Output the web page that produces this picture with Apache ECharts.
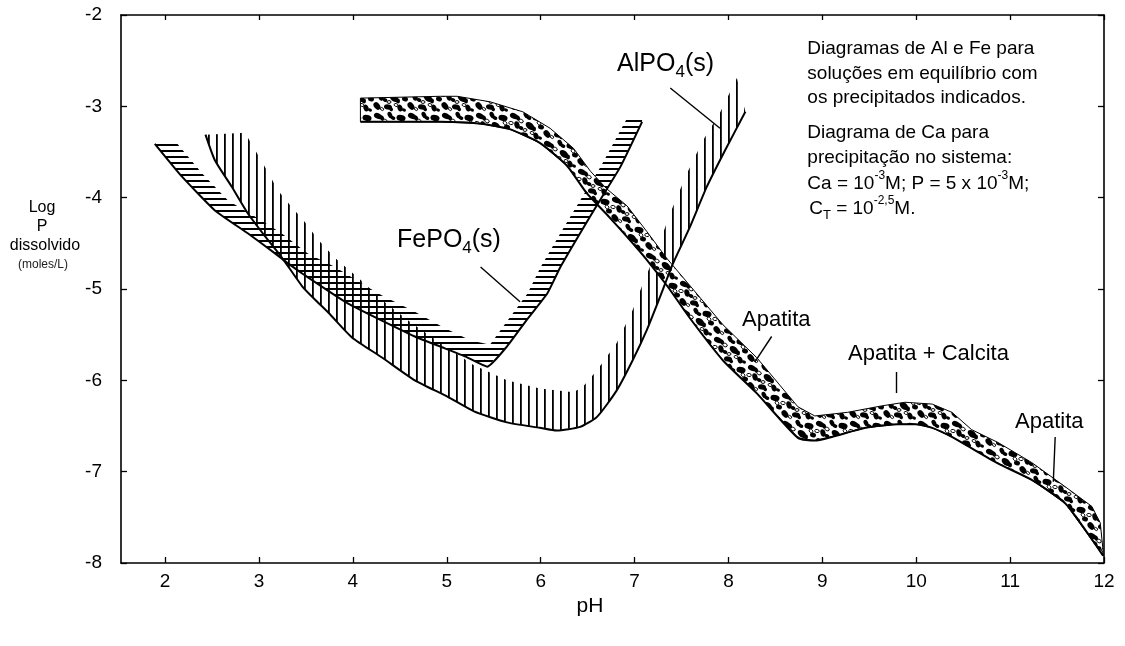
<!DOCTYPE html>
<html><head><meta charset="utf-8">
<script src="https://cdn.jsdelivr.net/npm/echarts@6/dist/echarts.min.js"></script>
<style>html,body{margin:0;padding:0;background:#fff}#c{width:1125px;height:646px}</style>
</head><body><div id="c"></div>
<script>
// ---------- DATA (pH, log P dissolvido) ----------
const xTicks = [2, 3, 4, 5, 6, 7, 8, 9, 10, 11, 12];
const yTicks = [-8, -7, -6, -5, -4, -3, -2];

// FePO4(s): solid boundary line and hatch edge
const fePO4Lower = [[1.89,-3.41],[2.18,-3.77],[2.53,-4.14],[2.88,-4.39],[3.17,-4.61],[3.31,-4.72],[3.46,-4.83],[3.95,-5.16],[4.66,-5.52],[4.93,-5.63],[5.20,-5.74],[5.43,-5.85],[5.64,-5.63],[5.85,-5.34],[6.07,-5.05],[6.21,-4.76],[6.42,-4.39],[6.63,-4.03],[6.85,-3.66],[7.08,-3.17]];
const fePO4Upper = [[1.89,-3.41],[2.13,-3.41],[2.39,-3.73],[2.67,-4.03],[2.96,-4.21],[3.24,-4.39],[3.52,-4.61],[3.81,-4.76],[4.16,-4.98],[4.31,-5.07],[4.66,-5.25],[4.98,-5.43],[5.25,-5.56],[5.46,-5.61],[5.63,-5.37],[5.86,-5.05],[6.00,-4.76],[6.21,-4.39],[6.42,-4.03],[6.64,-3.66],[6.92,-3.13],[7.08,-3.13]];

// AlPO4(s)
const alPO4Lower = [[2.43,-3.31],[2.53,-3.59],[2.71,-3.88],[2.88,-4.17],[3.07,-4.43],[3.24,-4.65],[3.46,-4.97],[3.60,-5.12],[3.74,-5.26],[3.99,-5.53],[4.31,-5.75],[4.66,-6.00],[5.01,-6.18],[5.29,-6.34],[5.64,-6.46],[5.99,-6.52],[6.17,-6.55],[6.42,-6.51],[6.60,-6.40],[6.81,-6.11],[6.98,-5.78],[7.13,-5.45],[7.27,-5.09],[7.41,-4.72],[7.59,-4.32],[7.77,-3.88],[7.97,-3.47],[8.18,-3.06]];
const alPO4Upper = [[2.43,-3.31],[2.85,-3.29],[2.96,-3.48],[3.10,-3.73],[3.20,-3.92],[3.33,-4.08],[3.49,-4.27],[3.63,-4.46],[3.81,-4.66],[4.08,-4.90],[4.31,-5.12],[4.61,-5.36],[4.93,-5.59],[5.28,-5.83],[5.64,-6.00],[5.99,-6.09],[6.35,-6.13],[6.45,-6.07],[6.60,-5.89],[6.81,-5.59],[6.98,-5.23],[7.09,-4.94],[7.24,-4.57],[7.38,-4.17],[7.56,-3.73],[7.73,-3.37],[7.91,-3.07],[8.09,-2.69],[8.18,-3.06]];

// Apatita (Ca system)
const apatitaLower = [[4.08,-3.17],[4.93,-3.17],[5.36,-3.19],[5.67,-3.25],[5.99,-3.40],[6.28,-3.65],[6.49,-3.95],[6.71,-4.19],[6.92,-4.43],[7.13,-4.68],[7.35,-4.97],[7.59,-5.32],[7.94,-5.78],[8.30,-6.14],[8.74,-6.63],[8.92,-6.66],[9.10,-6.62],[9.46,-6.52],[9.81,-6.48],[9.99,-6.48],[10.17,-6.52],[10.38,-6.62],[10.87,-6.91],[11.23,-7.09],[11.59,-7.35],[11.99,-7.92]];
const apatitaUpper = [[4.08,-2.91],[4.93,-2.89],[5.11,-2.89],[5.46,-2.95],[5.81,-3.06],[6.10,-3.24],[6.35,-3.46],[6.53,-3.71],[6.70,-3.90],[6.92,-4.09],[7.13,-4.37],[7.34,-4.66],[7.62,-5.00],[7.94,-5.39],[8.30,-5.75],[8.39,-5.86],[8.74,-6.29],[8.92,-6.39],[9.27,-6.35],[9.63,-6.28],[9.88,-6.24],[10.17,-6.26],[10.38,-6.35],[10.59,-6.54],[10.87,-6.68],[11.23,-6.90],[11.58,-7.16],[11.87,-7.38],[11.96,-7.56],[11.99,-7.86]];

// leader lines
const feLeader = [[5.36,-4.76],[5.78,-5.14]];
const alLeader = [[7.38,-2.80],[7.91,-3.24]];
const ap1Leader = [[8.46,-5.52],[8.28,-5.80]];
const apcLeader = [[9.79,-5.91],[9.79,-6.14]];
const ap2Leader = [[11.48,-6.62],[11.46,-7.11]];

// texts
const noteLines = ['Diagramas de Al e Fe para','soluções em equilíbrio com','os precipitados indicados.','Diagrama de Ca para','precipitação no sistema:'];
const noteFormula1 = ['Ca = 10','-3','M; P = 5 x 10','-3','M;'];
const noteFormula2 = ['C','T',' = 10','-2,5','M.'];
const yTitle = ['Log','P','dissolvido','(moles/L)'];
const xTitle = 'pH';

// ---------- STYLE ----------
const FONT = '"Liberation Sans", Arial, Helvetica, sans-serif';
const mctx = document.createElement('canvas').getContext('2d');
function tw(t, s) { mctx.font = s + 'px ' + FONT; return mctx.measureText(t).width; }

function hatchH() {
  const c = document.createElement('canvas'); c.width = 8; c.height = 6;
  const g = c.getContext('2d'); g.fillStyle = '#000'; g.fillRect(0, 0, 8, 2); return c;
}
function hatchV() {
  const c = document.createElement('canvas'); c.width = 8; c.height = 8;
  const g = c.getContext('2d'); g.fillStyle = '#000'; g.fillRect(0, 0, 1.8, 8); return c;
}
function mottle() {
  const W = 34, H = 28;
  const c = document.createElement('canvas'); c.width = W; c.height = H;
  const g = c.getContext('2d'); g.fillStyle = '#fff'; g.fillRect(0, 0, W, H);
  // irregular black blotches (each built from overlapping ellipses)
  const blk = [
    [4,4,4.2,2.8,0.4],[8,6,2.6,2.0,1.2],
    [16,3,3.4,2.2,1.1],[19,6,2.4,1.8,0.3],
    [27,6,4.6,3.0,0.2],
    [7,13,3.8,2.6,1.3],[11,16,2.4,1.8,0.4],
    [20,14,5.0,3.2,0.7],[24,17,2.6,2.0,1.5],
    [31,15,3.0,2.4,0.3],
    [3,22,4.2,2.9,0.9],[14,23,4.0,2.6,0.1],[17,25,2.4,1.8,1.0],
    [26,24,3.6,2.5,1.2],[30,26,2.0,1.6,0.2]
  ];
  const wht = [[11,9,2.4,1.7,0.5],[15,18,2.0,1.4,0],[29,11,2.2,1.6,1],[22,21,2.0,1.4,0.4],[1,11,2.2,1.6,0.2],[8,25,1.8,1.3,0.7]];
  for (const dx of [-W, 0, W]) for (const dy of [-H, 0, H]) {
    g.fillStyle = '#000';
    blk.forEach(b => { g.beginPath(); g.ellipse(b[0]+dx, b[1]+dy, b[2], b[3], b[4], 0, Math.PI*2); g.fill(); });
  }
  for (const dx of [-W, 0, W]) for (const dy of [-H, 0, H]) {
    g.strokeStyle = '#000'; g.lineWidth = 1;
    wht.forEach(b => { g.beginPath(); g.ellipse(b[0]+dx, b[1]+dy, b[2], b[3], b[4], 0, Math.PI*2); g.fillStyle = '#fff'; g.fill(); g.stroke(); });
  }
  return c;
}

function bandSeries(lower, upper, fill, stroke, z) {
  return {
    type: 'custom', coordinateSystem: 'cartesian2d', z: z, silent: true,
    data: [lower[0]],
    renderItem: function (params, api) {
      const pts = lower.concat(upper.slice().reverse()).map(p => api.coord(p));
      return { type: 'polygon', shape: { points: pts },
        style: { fill: fill, stroke: stroke ? '#000' : null, lineWidth: stroke ? 1 : 0 } };
    }
  };
}
function lineSeries(data, width, z, smooth) {
  return { type: 'line', data: data, showSymbol: false, symbol: 'none', silent: true, z: z,
    smooth: smooth || false, lineStyle: { color: '#000', width: width }, animation: false };
}

function runs(api, anchor, pieces) {
  const p = api.coord(anchor);
  let x = p[0];
  return pieces.map(pc => {
    const el = { type: 'text', x: x, y: p[1] + (pc.dy || 0),
      style: { text: pc.t, font: pc.s + 'px ' + FONT, fill: '#000', align: 'left', verticalAlign: 'middle' } };
    x += tw(pc.t, pc.s) + (pc.gap || 0);
    return el;
  });
}

const labelSeries = {
  type: 'custom', coordinateSystem: 'cartesian2d', z: 10, silent: true,
  data: [[8.84, -2.36]],
  renderItem: function (params, api) {
    const ch = [];
    const nx = 8.84, ny = [-2.37, -2.64, -2.91, -3.29, -3.56, -3.85, -4.12];
    noteLines.forEach((t, i) => ch.push(...runs(api, [nx, ny[i]], [{ t: t, s: 19 }])));
    ch.push(...runs(api, [nx, ny[5]], [
      { t: noteFormula1[0], s: 19 }, { t: noteFormula1[1], s: 12, dy: -8 }, { t: noteFormula1[2], s: 19 },
      { t: noteFormula1[3], s: 12, dy: -8 }, { t: noteFormula1[4], s: 19 }]));
    ch.push(...runs(api, [nx + 0.02, ny[6]], [
      { t: noteFormula2[0], s: 19 }, { t: noteFormula2[1], s: 13, dy: 7 }, { t: noteFormula2[2], s: 19 },
      { t: noteFormula2[3], s: 12, dy: -8 }, { t: noteFormula2[4], s: 19 }]));
    ch.push(...runs(api, [4.47, -4.464], [{ t: 'FePO', s: 25 }, { t: '4', s: 17, dy: 8 }, { t: '(s)', s: 25 }]));
    ch.push(...runs(api, [6.814, -2.537], [{ t: 'AlPO', s: 25 }, { t: '4', s: 17, dy: 8 }, { t: '(s)', s: 25 }]));
    ch.push(...runs(api, [8.145, -5.341], [{ t: 'Apatita', s: 22 }]));
    ch.push(...runs(api, [9.274, -5.713], [{ t: 'Apatita + Calcita', s: 22 }]));
    ch.push(...runs(api, [11.052, -6.458], [{ t: 'Apatita', s: 22 }]));
    return { type: 'group', children: ch };
  }
};

const axisLineStyle = { color: '#000', width: 1.6 };
const tickStyle = { color: '#000', width: 1.3 };

const option = {
  animation: false,
  backgroundColor: '#fff',
  grid: { left: 121, right: 21, top: 15, bottom: 83, containLabel: false, outerBoundsMode: 'none' },
  xAxis: [
    { type: 'value', min: 1.53, max: 12, position: 'bottom',
      axisLine: { show: true, onZero: false, lineStyle: axisLineStyle },
      axisTick: { show: true, inside: true, length: 6, customValues: xTicks, lineStyle: tickStyle },
      axisLabel: { show: true, customValues: xTicks, color: '#000', fontSize: 19, fontFamily: FONT, margin: 9 },
      splitLine: { show: false } },
    { type: 'value', min: 1.53, max: 12, position: 'top',
      axisLine: { show: true, onZero: false, lineStyle: axisLineStyle },
      axisTick: { show: true, inside: true, length: 5, customValues: xTicks, lineStyle: tickStyle },
      axisLabel: { show: false }, splitLine: { show: false } }
  ],
  yAxis: [
    { type: 'value', min: -8, max: -2, interval: 1, position: 'left',
      axisLine: { show: true, onZero: false, lineStyle: axisLineStyle },
      axisTick: { show: true, inside: true, length: 6, lineStyle: tickStyle },
      axisLabel: { show: true, color: '#000', fontSize: 19, fontFamily: FONT, margin: 19 },
      splitLine: { show: false } },
    { type: 'value', min: -8, max: -2, interval: 1, position: 'right',
      axisLine: { show: true, onZero: false, lineStyle: axisLineStyle },
      axisTick: { show: true, inside: true, length: 6, lineStyle: tickStyle },
      axisLabel: { show: false }, splitLine: { show: false } }
  ],
  graphic: [
    { type: 'text', x: 42, y: 208, style: { text: yTitle[0], font: '16px ' + FONT, fill: '#000', align: 'center', verticalAlign: 'middle' } },
    { type: 'text', x: 42, y: 227, style: { text: yTitle[1], font: '16px ' + FONT, fill: '#000', align: 'center', verticalAlign: 'middle' } },
    { type: 'text', x: 45, y: 246, style: { text: yTitle[2], font: '16px ' + FONT, fill: '#000', align: 'center', verticalAlign: 'middle' } },
    { type: 'text', x: 43, y: 265, style: { text: yTitle[3], font: '12px ' + FONT, fill: '#222', align: 'center', verticalAlign: 'middle' } },
    { type: 'text', x: 590, y: 606, style: { text: xTitle, font: '21px ' + FONT, fill: '#000', align: 'center', verticalAlign: 'middle' } }
  ],
  series: [
    bandSeries(alPO4Lower, alPO4Upper, { image: hatchV(), repeat: 'repeat' }, false, 2),
    bandSeries(fePO4Lower, fePO4Upper, { image: hatchH(), repeat: 'repeat' }, false, 3),
    bandSeries(apatitaLower, apatitaUpper, { image: mottle(), repeat: 'repeat' }, true, 4),
    lineSeries(alPO4Lower, 2, 6, 0.2),
    lineSeries(fePO4Lower, 2, 6, 0.15),
    lineSeries(apatitaLower, 2, 6, 0.2),
    lineSeries(feLeader, 1.4, 6),
    lineSeries(alLeader, 1.4, 6),
    lineSeries(ap1Leader, 1.4, 6),
    lineSeries(apcLeader, 1.4, 6),
    lineSeries(ap2Leader, 1.4, 6),
    labelSeries
  ]
};
const chart = echarts.init(document.getElementById('c'), null, { renderer: 'canvas' });
chart.setOption(option);
</script>
</body></html>
